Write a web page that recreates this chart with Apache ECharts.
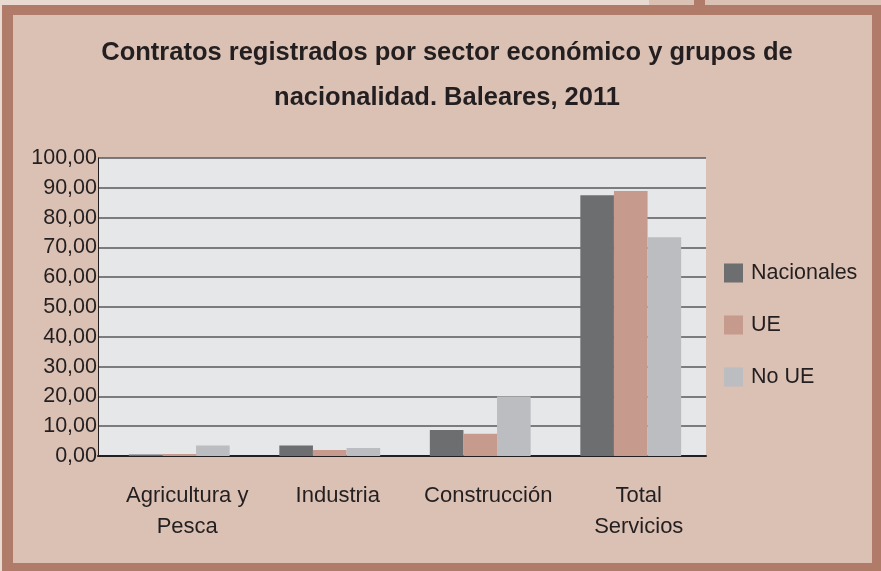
<!DOCTYPE html>
<html>
<head>
<meta charset="utf-8" />
<title>Contratos registrados</title>
<script src="https://cdn.jsdelivr.net/npm/echarts@6/dist/echarts.min.js"></script>
<style>
    html, body { margin: 0; padding: 0; background: #e8d9d1; }
    #chart { width: 881px; height: 571px; }
</style>
</head>
<body>
<div id="chart"></div>
<script type="text/javascript">
// datos (%)
var sectores = ['Agricultura y\nPesca', 'Industria', 'Construcción', 'Total\nServicios'];
var nacionales = [0.5, 3.5, 8.7, 87.5];
var ue = [0.7, 2.0, 7.5, 88.9];
var noUe = [3.5, 2.7, 20.0, 73.4];
var grupos = ['Nacionales', 'UE', 'No UE'];
var colores = ['#6d6e70', '#c69b8e', '#bbbdc0'];

var chart = echarts.init(document.getElementById('chart'));

function fmt(v) {
    return v.toFixed(2).replace('.', ',');
}

function serie(nombre, datos, i) {
    return {
        name: nombre,
        type: 'bar',
        data: datos,
        xAxisIndex: 1,
        yAxisIndex: 1,
        barGap: '0%',
        barCategoryGap: '33%',
        itemStyle: { color: colores[i] },
        emphasis: { disabled: true }
    };
}

var fuente = 'Liberation Sans';

var option = {
    backgroundColor: 'transparent',
    animation: false,
    graphic: [
        // marco
        { type: 'rect', shape: { x: 649, y: 0, width: 232, height: 6 }, style: { fill: '#dbc0b4' }, z: -10 },
        { type: 'rect', shape: { x: 694, y: 0, width: 11, height: 6 }, style: { fill: '#b07b69' }, z: -9 },
        { type: 'rect', shape: { x: 2, y: 5, width: 879, height: 566 }, style: { fill: '#b07b69' }, z: -8 },
        { type: 'rect', shape: { x: 13, y: 15, width: 859, height: 548 }, style: { fill: '#dbc0b4' }, z: -7 }
    ],
    title: {
        text: 'Contratos registrados por sector económico y grupos de\nnacionalidad. Baleares, 2011',
        left: 442,
        top: 25,
        textAlign: 'center',
        textStyle: {
            fontFamily: fuente,
            fontWeight: 'bold',
            fontSize: 25.5,
            lineHeight: 45,
            color: '#231f20'
        }
    },
    legend: {
        data: grupos,
        orient: 'vertical',
        left: 719,
        top: 257,
        itemWidth: 19,
        itemHeight: 19,
        itemGap: 30,
        icon: 'rect',
        selectedMode: false,
        textStyle: { fontFamily: fuente, fontSize: 21.5, color: '#231f20', padding: [0, 0, 0, 3] }
    },
    grid: [
        // fondo del area de trazado con rejilla
        { left: 98, top: 158, width: 608, height: 298, show: true, backgroundColor: '#e6e7e9', borderWidth: 0 },
        // barras
        { left: 104, top: 158, width: 602, height: 298 }
    ],
    xAxis: [
        {
            type: 'category',
            gridIndex: 0,
            data: sectores,
            axisLine: { lineStyle: { color: '#231f20', width: 2 } },
            axisTick: { show: false },
            axisLabel: { show: false }
        },
        {
            type: 'category',
            gridIndex: 1,
            data: sectores,
            axisLine: { show: false },
            axisTick: { show: false },
            axisLabel: {
                margin: 24,
                interval: 0,
                fontFamily: fuente,
                fontSize: 22,
                lineHeight: 31,
                padding: [0, 0, 0, 16],
                color: '#231f20'
            }
        }
    ],
    yAxis: [
        {
            type: 'value',
            gridIndex: 0,
            min: 0,
            max: 100,
            interval: 10,
            axisLine: { show: true, lineStyle: { color: '#231f20', width: 1 } },
            axisTick: { show: false },
            axisLabel: {
                margin: 1,
                fontFamily: fuente,
                fontSize: 21.5,
                color: '#231f20',
                formatter: fmt
            },
            splitLine: { lineStyle: { color: '#58595b', width: 1.5 } }
        },
        {
            type: 'value',
            gridIndex: 1,
            min: 0,
            max: 100,
            interval: 10,
            show: false,
            splitLine: { show: false }
        }
    ],
    series: [
        serie(grupos[0], nacionales, 0),
        serie(grupos[1], ue, 1),
        serie(grupos[2], noUe, 2)
    ]
};

chart.setOption(option);
</script>
</body>
</html>
